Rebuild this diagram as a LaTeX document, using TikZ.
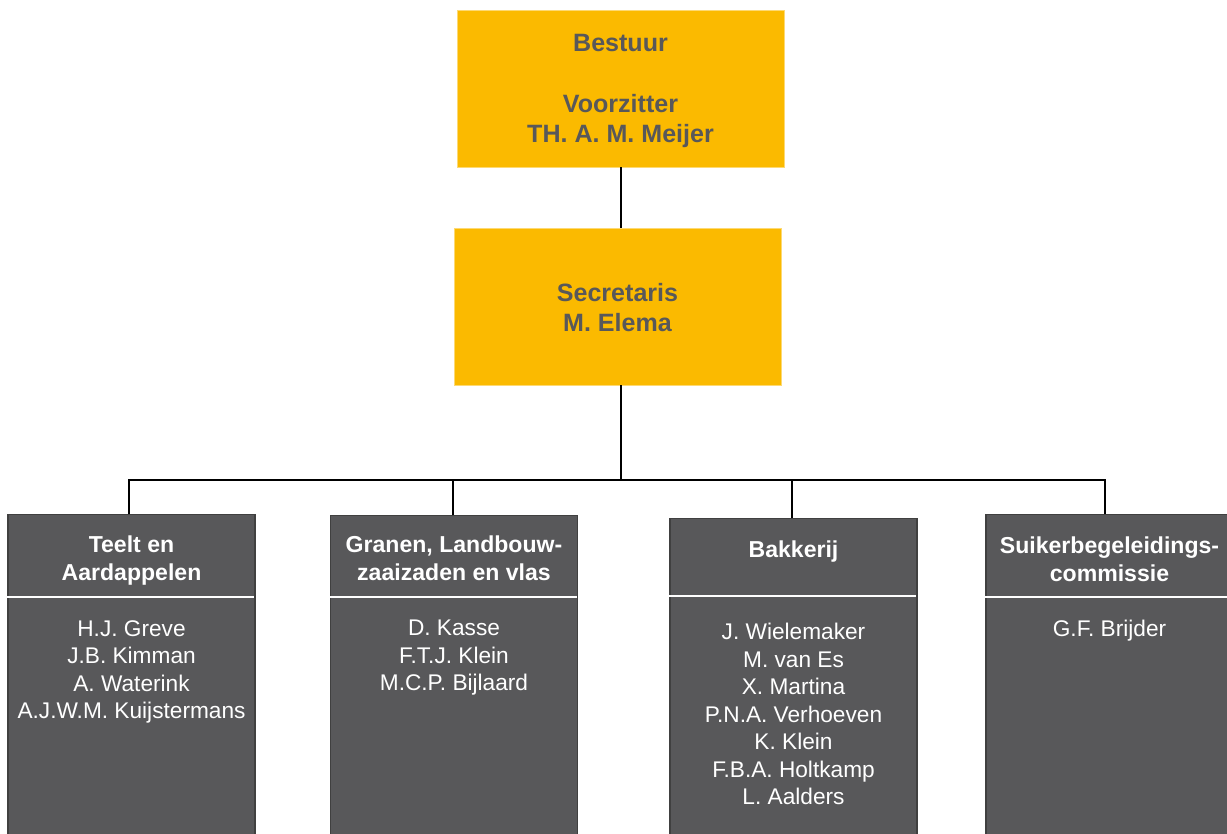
\documentclass[tikz,border=0pt]{standalone}
\usepackage{fontspec}
\setmainfont{Liberation Sans}
\usetikzlibrary{positioning}

\definecolor{geel}{HTML}{FBBA00}
\definecolor{grijs}{HTML}{58585A}

\tikzset{
    bestuurbox/.style={fill=geel, draw=geel!55!white, line width=0.6pt,
        minimum width=245.25pt, minimum height=117.75pt, align=center,
        text=grijs, font=\bfseries\fontsize{18.8}{22.9}\selectfont},
    takbox/.style={fill=grijs, draw=black!75, line width=0.8pt, anchor=north,
        minimum width=185.25pt, minimum height=262.5pt},
    kop/.style={inner sep=0pt, align=center, text=white,
        font=\bfseries\fontsize{17.3}{21}\selectfont},
    leden/.style={inner sep=0pt, align=center, text=white,
        font=\fontsize{17}{20.6}\selectfont},
    scheiding/.style={white, line width=1.6pt},
    lijn/.style={black, line width=1.5pt}
}

\begin{document}
\begin{tikzpicture}[x=0.75pt, y=-0.75pt]
    \clip (0,0) rectangle (1227,834);

    \node[bestuurbox] (bestuur) at (620.5,88.5) {};
    \node[text=grijs, align=center, font=\bfseries\fontsize{18.8}{22.9}\selectfont] (bestuurtekst) at (620.5,91) {Bestuur\\[22.9pt]Voorzitter\\TH. A. M. Meijer};
    \node[bestuurbox] (secretaris) at (617.5,306.5) {};
    \node[text=grijs, align=center, font=\bfseries\fontsize{18.8}{22.9}\selectfont] (secretaristekst) at (617.5,307.5) {Secretaris\\M. Elema};
    \coordinate (splitsing) at (620.5,480);

    \node[takbox] (teelt) at (131.5,514) {};
    \node[kop, below=16.5pt of teelt.north] (teeltkop) {Teelt en\\Aardappelen};
    \node[leden, below=79.5pt of teelt.north] (teeltleden) {H.J. Greve\\J.B. Kimman\\A. Waterink\\A.J.W.M. Kuijstermans};
    \draw[scheiding] (teelt.north west) ++(0,83) -- ++(247,0);

    \node[takbox] (granen) at (454,515) {};
    \node[kop, below=15.75pt of granen.north] (granenkop) {Granen, Landbouw-\\zaaizaden en vlas};
    \node[leden, below=78.75pt of granen.north] (granenleden) {D. Kasse\\F.T.J. Klein\\M.C.P. Bijlaard};
    \draw[scheiding] (granen.north west) ++(0,82) -- ++(247,0);

    \node[takbox] (bakkerij) at (793.5,518) {};
    \node[kop, below=17.25pt of bakkerij.north] (bakkerijkop) {Bakkerij};
    \node[leden, below=78.75pt of bakkerij.north] (bakkerijleden) {J. Wielemaker\\M. van Es\\X. Martina\\P.N.A. Verhoeven\\K. Klein\\F.B.A. Holtkamp\\L. Aalders};
    \draw[scheiding] (bakkerij.north west) ++(0,78) -- ++(247,0);

    \node[takbox] (suiker) at (1109.5,514) {};
    \node[kop, below=17.25pt of suiker.north] (suikerkop) {Suikerbegeleidings-\\commissie};
    \node[leden, below=79.5pt of suiker.north] (suikerleden) {G.F. Brijder};
    \draw[scheiding] (suiker.north west) ++(0,83) -- ++(247,0);

    \draw[lijn] (bestuur.south) -- (bestuur.south |- secretaris.north);
    \draw[lijn] (secretaris.south -| bestuur.south) -- (splitsing);
    \draw[lijn] ([xshift=-1.9pt]teelt.north) |- (splitsing) -| ([xshift=-3.4pt]suiker.north);
    \draw[lijn] ([xshift=-0.75pt]granen.north) -- ([xshift=-0.75pt]granen.north |- splitsing);
    \draw[lijn] ([xshift=-1.1pt]bakkerij.north) -- ([xshift=-1.1pt]bakkerij.north |- splitsing);

\end{tikzpicture}
\end{document}
